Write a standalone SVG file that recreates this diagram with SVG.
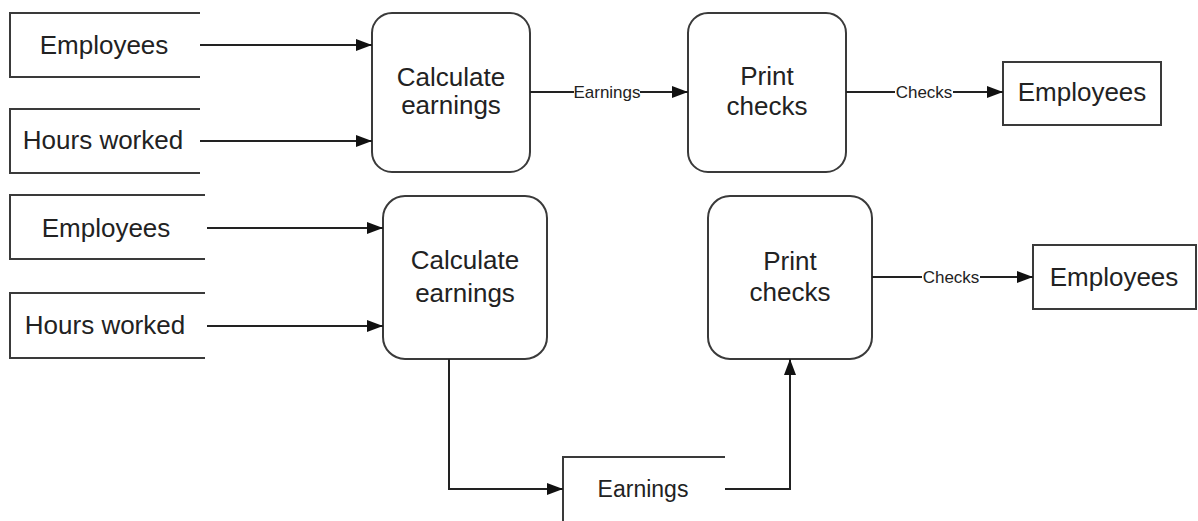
<svg xmlns="http://www.w3.org/2000/svg" width="1198" height="521" viewBox="0 0 1198 521">
  <style>
    .shape { fill: #fff; stroke: #3a3a3a; stroke-width: 2; }
    .store { fill: none; stroke: #3a3a3a; stroke-width: 2; }
    .t { font-family: "Liberation Sans", Arial, sans-serif; font-size: 26px; fill: #222; text-anchor: middle; }
    .st { font-family: "Liberation Sans", Arial, sans-serif; font-size: 23px; fill: #222; text-anchor: middle; }
    .lbl { font-family: "Liberation Sans", Arial, sans-serif; font-size: 17px; fill: #222; text-anchor: middle; }
    .lblbg { fill: #fff; }
    .flow { fill: none; stroke: #222; stroke-width: 2; }
  </style>
  <defs>
    <marker id="arrow" viewBox="0 0 16 12" refX="16" refY="6" markerWidth="16" markerHeight="12" markerUnits="userSpaceOnUse" orient="auto">
      <path d="M0,0 L16,6 L0,12 z" fill="#111"/>
    </marker>
  </defs>
  <rect width="1198" height="521" fill="#fff"/>

  <!-- Top process: data stores, processes, sink -->
  <g id="store-employees-1">
    <path class="store" d="M200,13 H10 V77 H200"/>
    <text class="t" x="104" y="54">Employees</text>
  </g>
  <g id="store-hours-1">
    <path class="store" d="M200,109 H10 V173 H200"/>
    <text class="t" x="103" y="149">Hours worked</text>
  </g>
  <g id="proc-calc-1">
    <rect class="shape" x="372" y="13" width="158" height="159" rx="20"/>
    <text class="t" x="451" y="86">Calculate</text>
    <text class="t" x="451" y="114">earnings</text>
  </g>
  <g id="proc-print-1">
    <rect class="shape" x="688" y="13" width="158" height="159" rx="20"/>
    <text class="t" x="767" y="85">Print</text>
    <text class="t" x="767" y="115">checks</text>
  </g>
  <g id="sink-employees-1">
    <rect class="shape" x="1003" y="62" width="158" height="63"/>
    <text class="t" x="1082" y="101">Employees</text>
  </g>

  <!-- Bottom process: data stores, processes, sink -->
  <g id="store-employees-2">
    <path class="store" d="M205,195 H10 V259 H205"/>
    <text class="t" x="106" y="237">Employees</text>
  </g>
  <g id="store-hours-2">
    <path class="store" d="M205,293 H10 V358 H205"/>
    <text class="t" x="105" y="334">Hours worked</text>
  </g>
  <g id="proc-calc-2">
    <rect class="shape" x="383" y="196" width="164" height="163" rx="22"/>
    <text class="t" x="465" y="269">Calculate</text>
    <text class="t" x="465" y="302">earnings</text>
  </g>
  <g id="proc-print-2">
    <rect class="shape" x="708" y="196" width="164" height="163" rx="22"/>
    <text class="t" x="790" y="270">Print</text>
    <text class="t" x="790" y="301">checks</text>
  </g>
  <g id="sink-employees-2">
    <rect class="shape" x="1033" y="245" width="163" height="64"/>
    <text class="t" x="1114" y="286">Employees</text>
  </g>
  <g id="store-earnings">
    <path class="store" d="M725,457 H563 V522 H725"/>
    <text class="st" x="643" y="497">Earnings</text>
  </g>

  <g id="connectors">
    <line class="flow" x1="200" y1="45" x2="372" y2="45" marker-end="url(#arrow)"/>
    <line class="flow" x1="200" y1="141" x2="372" y2="141" marker-end="url(#arrow)"/>
    <line class="flow" x1="530" y1="92" x2="688" y2="92" marker-end="url(#arrow)"/>
    <rect class="lblbg" x="574" y="84" width="66" height="16"/>
    <text class="lbl" x="607" y="98">Earnings</text>
    <line class="flow" x1="846" y1="92" x2="1003" y2="92" marker-end="url(#arrow)"/>
    <rect class="lblbg" x="895" y="84" width="58" height="16"/>
    <text class="lbl" x="924" y="98">Checks</text>

    <line class="flow" x1="207" y1="228" x2="383" y2="228" marker-end="url(#arrow)"/>
    <line class="flow" x1="207" y1="326" x2="383" y2="326" marker-end="url(#arrow)"/>
    <polyline class="flow" points="449,359 449,489 563,489" marker-end="url(#arrow)"/>
    <polyline class="flow" points="725,489 790,489 790,359" marker-end="url(#arrow)"/>
    <line class="flow" x1="872" y1="277" x2="1033" y2="277" marker-end="url(#arrow)"/>
    <rect class="lblbg" x="922" y="269" width="58" height="16"/>
    <text class="lbl" x="951" y="283">Checks</text>
  </g>
</svg>
